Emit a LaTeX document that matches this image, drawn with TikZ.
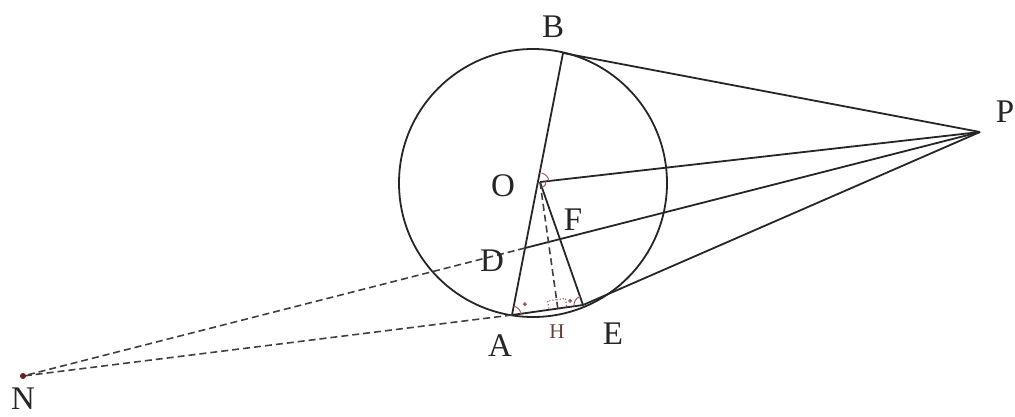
\documentclass[tikz,border=0pt]{standalone}
\usepackage{fontspec}
\setmainfont{Liberation Serif}
\usetikzlibrary{calc,angles}
\definecolor{mk}{RGB}{170,100,110}
\definecolor{hb}{RGB}{110,60,55}
\definecolor{nd}{RGB}{110,30,35}
\begin{document}
\begin{tikzpicture}[x=1pt,y=-1pt,
  ln/.style={line width=1.8pt, black!85},
  dsh/.style={line width=1.6pt, dash pattern=on 7pt off 4pt, black!75},
  lab/.style={font=\fontsize{33}{36}\selectfont, inner sep=0pt, text=black!85},
  mk/.style={draw=mk, line width=1.1pt}]
\useasboundingbox (0,0) rectangle (1015,416);
% points
\coordinate (C) at (533,183);
\coordinate (O) at (540,182);
\coordinate (B) at (563,53);
\coordinate (A) at (512,315);
\coordinate (E) at (583,305);
\coordinate (P) at (980,132);
\coordinate (N) at (23,376);
\coordinate (D) at (intersection of P--N and A--B);
\coordinate (F) at (intersection of P--D and O--E);
\coordinate (H) at ($(A)!(O)!(E)$);
% circle
\draw[ln] (C) circle[radius=134];
% solid lines
\draw[ln] (B) -- (A);
\draw[ln] (O) -- (E);
\draw[ln] (A) -- (E);
\draw[ln] (B) -- (P);
\draw[ln] (O) -- (P);
\draw[ln] (D) -- (P);
\draw[ln] (E) -- (P);
% dashed lines
\draw[dsh] (O) -- (H);
\draw[dsh] (D) -- (N);
\draw[dsh] (A) -- (N);
% marks
\pic[mk, angle radius=9pt] {angle = E--A--O};
\pic[mk, angle radius=9pt] {angle = O--E--A};
\pic[mk, angle radius=6pt] {angle = E--O--P};
\pic[mk, angle radius=9pt] {angle = P--O--B};
\fill[mk] ($(A)!13pt!(E) + (0,-9)$) circle[radius=1.4pt];
\fill[mk] ($(E)!13pt!(A) + (0,-6)$) circle[radius=1.4pt];
\draw[mk, dotted, line width=1.3pt] ($(H)!9pt!(O)$) -- ($(H)!9pt!(O) + ($(H)!9pt!(E)$) - (H)$) -- ($(H)!9pt!(E)$);
\draw[mk, dotted, line width=1.3pt] ($(H)!9pt!(O)$) -- ($(H)!9pt!(O) + ($(H)!9pt!(A)$) - (H)$) -- ($(H)!9pt!(A)$);
\fill[nd] (N) circle[radius=3pt];
% labels
\node[lab] (lB) at (553,27) {B};
\node[lab] (lP) at (1005,112) {P};
\node[lab] (lO) at (503,186) {O};
\node[lab] (lF) at (573,220) {F};
\node[lab] (lD) at (492,261) {D};
\node[lab] (lA) at (500,346) {A};
\node[lab] (lE) at (613,334) {E};
\node[inner sep=0pt, font=\fontsize{21}{24}\selectfont, text=hb] (lH) at (557,332) {H};
\node[lab] (lN) at (23,399) {N};
\end{tikzpicture}
\end{document}
